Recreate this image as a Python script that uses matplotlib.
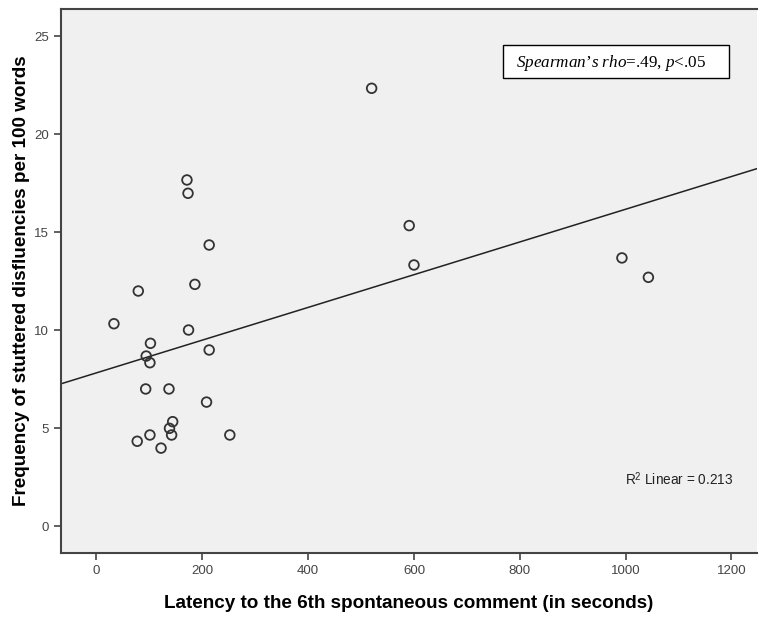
import numpy as np
import matplotlib
matplotlib.use("Agg")
import matplotlib.pyplot as plt
from matplotlib.patches import Rectangle

plt.rcParams["font.family"] = "Liberation Sans"
plt.rcParams["mathtext.fontset"] = "custom"
plt.rcParams["mathtext.it"] = "Liberation Serif:italic"
plt.rcParams["mathtext.rm"] = "Liberation Serif"

# latency to 6th comment [s] and stuttered disfluencies per 100 words
latency = [520, 171, 173, 213, 186, 79, 591, 600, 993, 1043,
           33, 174, 102, 94, 101, 213, 93, 137, 208, 144,
           138, 142, 101, 77, 122, 252]
disfluency = [22.35, 17.67, 16.99, 14.35, 12.34, 12.0, 15.34, 13.33, 13.69, 12.70,
              10.33, 10.01, 9.33, 8.68, 8.34, 8.99, 7.0, 7.0, 6.33, 5.33,
              4.99, 4.65, 4.65, 4.33, 3.98, 4.65]
xticks = [0, 200, 400, 600, 800, 1000, 1200]
yticks = [0, 5, 10, 15, 20, 25]

x = np.array(latency)
y = np.array(disfluency)
# linear fit line
slope, icpt = np.polyfit(x, y, 1)

fig = plt.figure(figsize=(7.58, 6.18), dpi=100)
ax = fig.add_axes([0.0805, 0.105, 0.918, 0.8805])
ax.set_facecolor("#f0f0f0")

xlim = (-67, 1248)
xs = np.array(xlim)
ax.plot(xs, icpt + slope * xs, color="#222222", lw=1.1, zorder=2)
ax.scatter(x, y, s=48, facecolors="none", edgecolors="#333333", linewidths=1.3, zorder=3)

ax.set_xlim(*xlim)
ax.set_ylim(-1.38, 26.4)
ax.set_xticks(xticks)
ax.set_yticks(yticks)
ax.tick_params(colors="#444444", labelsize=9.5, length=5, width=1.2)
for s in ["left", "bottom", "top"]:
    ax.spines[s].set_color("#444444")
    ax.spines[s].set_linewidth(1.5)
ax.spines["right"].set_visible(False)

ax.set_xlabel("Latency to the 6th spontaneous comment (in seconds)",
              fontsize=13.6, fontweight="bold", labelpad=13)
ax.set_ylabel("Frequency of stuttered disfluencies per 100 words",
              fontsize=13.6, fontweight="bold", labelpad=3)

# annotation box
ax.add_patch(Rectangle((0.6352, 0.8732), 0.3248, 0.0606, transform=ax.transAxes,
                       fc="white", ec="black", lw=1, zorder=4))
ax.text(0.654, 0.901, r"$\mathit{Spearman’s\ rho}$=.49, $\mathit{p}$<.05",
        transform=ax.transAxes, family="Liberation Serif", fontsize=12.3,
        va="center", ha="left", zorder=5)

ax.text(0.810, 0.136, r"R$^{\mathregular{2}}$ Linear = 0.213", transform=ax.transAxes,
        fontsize=9.8, color="#222222", va="center", ha="left")

fig.savefig("out.png", dpi=100)
